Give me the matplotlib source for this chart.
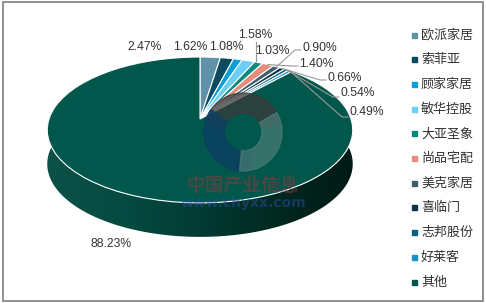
import matplotlib
matplotlib.use('Agg')
import matplotlib.pyplot as plt
import numpy as np
from matplotlib.transforms import Transform, Affine2D
from matplotlib.patches import Polygon, Rectangle, Wedge
from matplotlib.colors import LinearSegmentedColormap

plt.rcParams['font.family'] = ['Noto Sans CJK SC', 'DejaVu Sans']

names = ['欧派家居', '索菲亚', '顾家家居', '敏华控股', '大亚圣象', '尚品宅配',
         '美克家居', '喜临门', '志邦股份', '好莱客', '其他']
shares = [2.47, 1.62, 1.08, 1.58, 1.03, 1.40, 0.90, 0.66, 0.54, 0.49, 88.23]
colors = ['#5f92a8', '#0c4a60', '#0a9fd6', '#6dcff6', '#088a7e', '#e98b7a',
          '#3f5e70', '#0b3444', '#0d5f7e', '#1890c8', '#02574c']

# label placement in pixels (left edge, middle) and connector start points
label_pos = [(127, 47), (173, 47), (209, 47), (238, 35), (255, 51), (299, 64),
             (302, 48), (327, 78), (340, 93), (349, 112), (90, 244)]
conn_start = {3: (256, 42), 5: (298, 66), 6: (301, 50), 7: (326, 80),
              8: (339, 97), 9: (348, 117)}

cx, cy, rx, ry, k, depth = 200, 119, 151, 71.3, 0.15, 34


class Tilt(Transform):
    # simple perspective: far side of the disc shrinks
    input_dims = 2
    output_dims = 2

    def __init__(self, k):
        super().__init__()
        self.k = k

    def transform_non_affine(self, xy):
        xy = np.asarray(xy, float)
        d = 1 + self.k * xy[:, 1]
        return np.column_stack([xy[:, 0] / d, xy[:, 1] / d])


fig = plt.figure(figsize=(4.86, 3.03), dpi=100)
ax = fig.add_axes([0, 0, 1, 1])

to_px = Tilt(k) + Affine2D().scale(rx, -ry).translate(cx, cy)
tf_top = to_px + ax.transData

# side wall of the cylinder, gradient clipped to the front strip
t = np.linspace(np.pi - 0.5, 2 * np.pi + 0.5, 200)
rim = to_px.transform(np.column_stack([np.cos(t), np.sin(t)]))
side = np.vstack([rim, (rim + [0, depth])[::-1]])
side_patch = Polygon(side, closed=True, facecolor='none', edgecolor='none')
ax.add_patch(side_patch)
side_cmap = LinearSegmentedColormap.from_list(
    'side', ['#0b5148', '#064b42', '#023b34', '#01281f', '#001a16'])
grad = np.linspace(0, 1, 256).reshape(1, -1)
im = ax.imshow(grad, cmap=side_cmap, aspect='auto', zorder=1,
               extent=(side[:, 0].min(), side[:, 0].max(),
                       side[:, 1].max(), side[:, 1].min()))
im.set_clip_path(side_patch)

wedges, _ = ax.pie(shares, colors=colors, startangle=90, counterclock=False,
                   wedgeprops={'transform': tf_top, 'edgecolor': 'white',
                               'linewidth': 0.8, 'zorder': 2})

# watermark (y axis is flipped, so angles run clockwise on screen)
logo = (243, 132)
ax.add_patch(Wedge(logo, 39, 195, 345, width=20, color='#3a3a3a', alpha=0.75, zorder=3))
ax.add_patch(Wedge(logo, 39, 75, 215, width=20, color='#0b3f63', alpha=0.8, zorder=3))
ax.add_patch(Wedge(logo, 39, 330, 95, width=20, color='#4d7d78', alpha=0.7, zorder=3))
ax.text(243, 185, '中国产业信息', fontsize=13.5, fontweight='bold', color='#8b3b3b',
        alpha=0.5, ha='center', va='center', zorder=4)
ax.text(243, 203, 'www.chyxx.com', fontsize=10, fontweight='bold', color='#2b4d9c',
        alpha=0.5, ha='center', va='center', zorder=4, family='DejaVu Sans')

# percentage labels and connectors
for i, w in enumerate(wedges):
    lx, ly = label_pos[i]
    ax.text(lx, ly, f'{shares[i]:.2f}%', fontsize=8.7, color='#333333',
            family='Liberation Sans', ha='left', va='center', zorder=6)
    if i in conn_start:
        mid = np.deg2rad((w.theta1 + w.theta2) / 2)
        axp, ayp = to_px.transform([[np.cos(mid), np.sin(mid)]])[0]
        sx, sy = conn_start[i]
        if i == 3:
            xs, ys = [sx, sx], [sy, ayp]
        else:
            xs, ys = [sx, sx - 6, axp], [sy, sy, ayp]
        ax.plot(xs, ys, color='#999999', lw=0.8, zorder=5)

# legend
for i, name in enumerate(names):
    y = 35 + i * 24.7
    ax.add_patch(Rectangle((412, y - 2.5), 5, 5, color=colors[i], zorder=6))
    ax.text(421, y, name, fontsize=9.4, color='#333333', ha='left', va='center', zorder=6)

# frame
ax.add_patch(Rectangle((3, 2), 480, 299, fill=False, edgecolor='#888888', lw=1.3, zorder=7))

ax.set_aspect('auto')
ax.set_xlim(0, 486)
ax.set_ylim(303, 0)
ax.axis('off')

fig.savefig('out.png', dpi=100)
